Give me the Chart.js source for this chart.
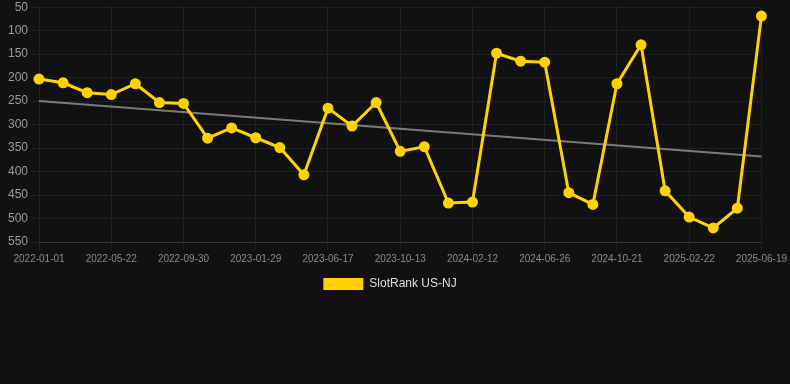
<!DOCTYPE html>
<html>
<head>
<meta charset="utf-8">
<script src="https://cdn.jsdelivr.net/npm/chart.js@4/dist/chart.umd.min.js"></script>
<style>
  html, body { margin: 0; padding: 0; background: #111111; }
  .wrap { position: relative; width: 790px; height: 300px; }
</style>
</head>
<body>
<div class="wrap">
  <canvas id="rankChart"></canvas>
</div>
<script>
// dates on the x axis (only every third one shows up after auto skip)
const labels = [
  "2022-01-01", "2022-02-17", "2022-04-05", "2022-05-22", "2022-07-05",
  "2022-08-17", "2022-09-30", "2022-11-10", "2022-12-20", "2023-01-29",
  "2023-03-15", "2023-05-01", "2023-06-17", "2023-07-30", "2023-09-01",
  "2023-10-13", "2023-11-25", "2024-01-01", "2024-02-12", "2024-03-28",
  "2024-05-12", "2024-06-26", "2024-08-09", "2024-09-15", "2024-10-21",
  "2024-12-03", "2025-01-12", "2025-02-22", "2025-04-05", "2025-05-12",
  "2025-06-19",
];

const rankNJ = [
  203, 211, 232, 236, 213, 253, 255, 329, 307, 328,
  349, 407, 265, 303, 253, 357, 347, 467, 465, 148,
  165, 167, 445, 470, 213, 130, 441, 497, 520, 478,
  69,
];

// trend line end points
const trendStart = 250;
const trendEnd = 368;

const yTicks = [50, 100, 150, 200, 250, 300, 350, 400, 450, 500, 550];

const trend = labels.map((_, i) =>
  i === 0 ? trendStart : i === labels.length - 1 ? trendEnd : null
);

const font = "Liberation Sans, Arial, sans-serif";
const ctx = document.getElementById("rankChart").getContext("2d");

new Chart(ctx, {
  type: "line",
  data: {
    labels: labels,
    datasets: [
      {
        label: "SlotRank US-NJ",
        data: rankNJ,
        borderColor: "#ffd200",
        backgroundColor: "#ffd200",
        borderWidth: 3,
        pointRadius: 4,
        pointHoverRadius: 4,
        pointBackgroundColor: "#ffd200",
        pointBorderColor: "#ffd200",
        tension: 0,
        fill: false,
      },
      {
        label: "trend",
        data: trend,
        borderColor: "rgba(150, 150, 150, 0.8)",
        borderWidth: 2,
        pointRadius: 0,
        spanGaps: true,
        fill: false,
      },
    ],
  },
  options: {
    responsive: true,
    maintainAspectRatio: false,
    animation: false,
    layout: {
      padding: { left: 5, right: 15, top: 0, bottom: 0 },
    },
    plugins: {
      tooltip: { enabled: false },
      legend: {
        position: "bottom",
        labels: {
          color: "#dddddd",
          boxWidth: 40,
          boxHeight: 12,
          font: { family: font, size: 12 },
          generateLabels: (chart) =>
            Chart.defaults.plugins.legend.labels
              .generateLabels(chart)
              .filter((item) => item.text !== "trend")
              .map((item) => ({ ...item, lineWidth: 0 })),
        },
      },
    },
    scales: {
      x: {
        grid: { color: "rgba(255, 255, 255, 0.06)" },
        border: { color: "rgba(255, 255, 255, 0.1)" },
        ticks: {
          color: "#8a8a8a",
          maxRotation: 0,
          autoSkip: true,
          font: { family: font, size: 10 },
        },
      },
      y: {
        reverse: true,
        min: yTicks[0],
        max: yTicks[yTicks.length - 1],
        grid: { color: "rgba(255, 255, 255, 0.06)" },
        border: { display: false },
        afterBuildTicks: (axis) => {
          axis.ticks = yTicks.map((v) => ({ value: v }));
        },
        ticks: {
          color: "#9a9a9a",
          font: { family: font, size: 12, lineHeight: 0.7 },
        },
      },
    },
  },
});
</script>
</body>
</html>
